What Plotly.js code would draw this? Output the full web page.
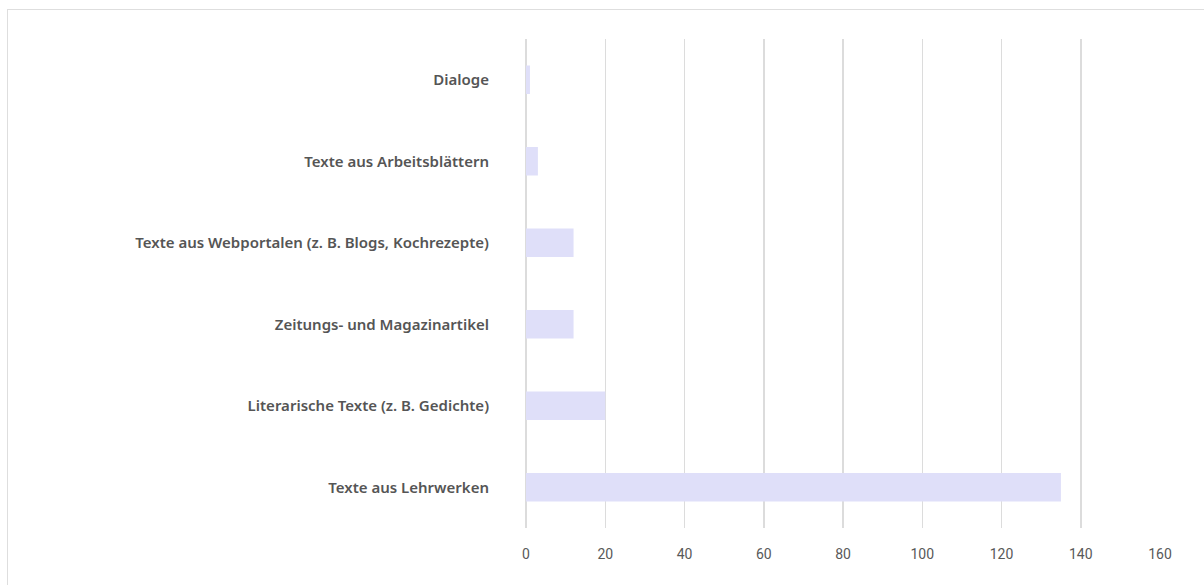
<!DOCTYPE html>
<html><head><meta charset="utf-8">
<script src="https://cdn.plot.ly/plotly-3.0.1.min.js"></script>
<style>
html,body{margin:0;padding:0;background:#fff;}
#frame{position:absolute;left:7px;top:9px;width:1300px;height:700px;border-top:1px solid #dedede;border-left:1px solid #dedede;}
#chart{position:absolute;left:0;top:0;width:1204px;height:585px;}
</style></head>
<body>
<div id="frame"></div>
<div id="chart"></div>
<script>
const categories = [
  "Texte aus Lehrwerken",
  "Literarische Texte (z. B. Gedichte)",
  "Zeitungs- und Magazinartikel",
  "Texte aus Webportalen (z. B. Blogs, Kochrezepte)",
  "Texte aus Arbeitsblättern",
  "Dialoge"
];
const values = [135, 20, 12, 12, 3, 1];
const xTicks = [0, 20, 40, 60, 80, 100, 120, 140, 160];

Plotly.newPlot('chart', [{
  type: 'bar',
  orientation: 'h',
  y: categories,
  x: values,
  width: 0.35,
  marker: {color: '#dfdff9'},
  hoverinfo: 'x+y'
}], {
  width: 1204, height: 585,
  margin: {l: 526, r: 44, t: 39, b: 57},
  paper_bgcolor: 'rgba(0,0,0,0)',
  plot_bgcolor: 'rgba(0,0,0,0)',
  showlegend: false,
  bargap: 0.65,
  xaxis: {
    range: [0, 160],
    tickvals: xTicks,
    ticktext: xTicks.map(String),
    showgrid: true, gridcolor: '#dcdcdc', gridwidth: 1.5,
    zeroline: true, zerolinecolor: '#dcdcdc', zerolinewidth: 1.5,
    showline: false, ticks: '',
    ticklabelstandoff: 16,
    tickfont: {family: 'Roboto', size: 14, color: '#595959'},
    fixedrange: true
  },
  yaxis: {
    type: 'category',
    categoryorder: 'array', categoryarray: categories,
    range: [-0.5, 5.5],
    showgrid: false, zeroline: false, showline: false, ticks: '',
    ticklabelstandoff: 36,
    tickfont: {family: 'Noto Sans', size: 15, color: '#555555', weight: 600},
    fixedrange: true
  },
  font: {family: 'Roboto'}
}, {displayModeBar: false, staticPlot: true});
</script>
</body></html>
